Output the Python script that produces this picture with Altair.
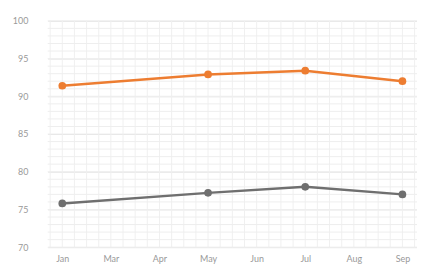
import altair as alt
import pandas as pd

months = ["Jan", "Mar", "Apr", "May", "Jun", "Jul", "Aug", "Sep"]
point_idx = [0, 3, 5, 7]
series_a = [91.4, 92.9, 93.4, 92.0]   # orange
series_b = [75.8, 77.2, 78.0, 77.0]   # gray

rows = []
for i, v in zip(point_idx, series_a):
    rows.append({"x": i, "v": v, "s": "A"})
for i, v in zip(point_idx, series_b):
    rows.append({"x": i, "v": v, "s": "B"})
df = pd.DataFrame(rows)

minor_x = [i * 0.25 for i in range(-1, 30)]
minor_y = list(range(70, 101))
gx = pd.DataFrame({"gx": minor_x})
gy = pd.DataFrame({"gy": minor_y})

xscale = alt.Scale(domain=[-0.3, 7.3], nice=False, zero=False)
yscale = alt.Scale(domain=[70, 100], nice=False, zero=False)

label_expr = "[" + ",".join(f"'{m}'" for m in months) + "][datum.value]"

xaxis = alt.Axis(values=list(range(8)), labelExpr=label_expr, title=None,
                 grid=False, domain=False, ticks=False, labelPadding=7,
                 labelColor="#999999", labelFontSize=9, labelFont="Lato")
yaxis = alt.Axis(values=[70, 75, 80, 85, 90, 95, 100], title=None,
                 grid=True, gridColor="#e2e2e2", domain=False, ticks=False,
                 labelPadding=20, labelColor="#999999", labelFontSize=9, labelFont="Lato")

vgrid = alt.Chart(gx).mark_rule(color="#f0f0f0", strokeWidth=1).encode(
    x=alt.X("gx:Q", scale=xscale, axis=xaxis)
)
hgrid = alt.Chart(gy).mark_rule(color="#eeeeee", strokeWidth=1).encode(
    y=alt.Y("gy:Q", scale=yscale, axis=yaxis)
)

color = alt.Color("s:N", scale=alt.Scale(domain=["A", "B"], range=["#ED7D31", "#6F6F6F"]), legend=None)

base = alt.Chart(df).encode(
    x=alt.X("x:Q", scale=xscale, axis=xaxis),
    y=alt.Y("v:Q", scale=yscale, axis=yaxis),
    color=color,
    detail="s:N",
)
lines = base.mark_line(strokeWidth=2.5)
pts = base.mark_point(filled=True, size=60, opacity=1)

chart = alt.layer(vgrid, hgrid, lines, pts).properties(
    width=372, height=228,
    autosize=alt.AutoSizeParams(type="none"),
    padding={"left": 40, "top": 12, "right": 0, "bottom": 17},
).configure_view(stroke=None)

chart.save("out.html", embed_options={"renderer": "svg", "actions": False})
